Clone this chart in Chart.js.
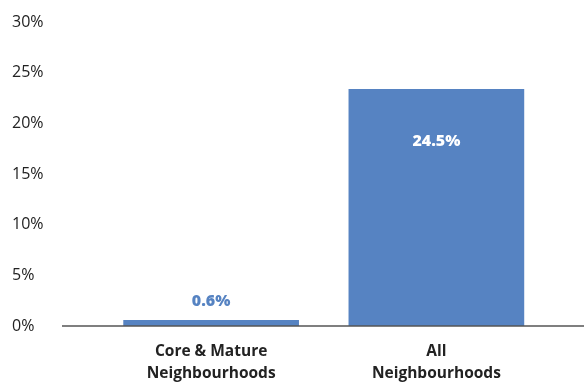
<!DOCTYPE html>
<html>
<head>
<meta charset="utf-8">
<script src="https://cdn.jsdelivr.net/npm/chart.js@4/dist/chart.umd.min.js"></script>
<style>
  html, body { margin: 0; padding: 0; background: #fff; }
  #wrap { width: 584px; height: 383px; position: relative; }
</style>
</head>
<body>
<div id="wrap"><canvas id="chart"></canvas></div>
<script>
const categories = [['Core & Mature', 'Neighbourhoods'], ['All', 'Neighbourhoods']];
const barValues = [0.6, 23.4];           // altura desenhada da barra (%)
const valueLabels = ['0.6%', '24.5%'];   // rótulo impresso na figura
const yTicks = [0, 5, 10, 15, 20, 25, 30];

const BLUE = 'rgb(86,131,194)';
const FONT = '"Open Sans", "Liberation Sans", sans-serif';

// linha de base + rótulos de valor
const extras = {
  id: 'extras',
  afterDatasetsDraw(chart) {
    const { ctx, scales: { y } } = chart;
    const y0 = y.getPixelForValue(0);
    ctx.save();
    ctx.strokeStyle = '#555';
    ctx.lineWidth = 1.5;
    ctx.beginPath();
    ctx.moveTo(62, y0);
    ctx.lineTo(584, y0);
    ctx.stroke();

    ctx.font = `800 16px ${FONT}`;
    ctx.textAlign = 'center';
    ctx.textBaseline = 'middle';
    chart.getDatasetMeta(0).data.forEach((bar, i) => {
      const inside = barValues[i] > 5;
      ctx.fillStyle = inside ? '#fff' : BLUE;
      const ty = inside ? bar.y + 53 : bar.y - 18;
      ctx.fillText(valueLabels[i], bar.x, ty);
    });
    ctx.restore();
  }
};

new Chart(document.getElementById('chart'), {
  type: 'bar',
  data: {
    labels: categories,
    datasets: [{ data: barValues, backgroundColor: BLUE, barPercentage: 0.78, categoryPercentage: 1 }]
  },
  options: {
    responsive: true, maintainAspectRatio: false, animation: false,
    layout: { padding: { left: 12, right: 35, top: 22, bottom: 0 } },
    plugins: { legend: { display: false }, tooltip: { enabled: false } },
    scales: {
      x: {
        grid: { display: false, drawTicks: false },
        border: { display: false },
        ticks: { color: '#222', padding: 15, font: { family: FONT, size: 15.5, weight: 'bold', lineHeight: 1.4 } },
        afterFit: (s) => { s.height = 57; }
      },
      y: {
        min: 0, max: 30,
        afterBuildTicks: (s) => { s.ticks = yTicks.map(v => ({ value: v })); },
        grid: { display: false, drawTicks: false },
        border: { display: false },
        ticks: {
          color: '#222', crossAlign: 'far', padding: 0,
          font: { family: FONT, size: 16 },
          callback: (v) => v + '%'
        },
        afterFit: (s) => { s.width = 86.5; }
      }
    }
  },
  plugins: [extras]
});
</script>
</body>
</html>
